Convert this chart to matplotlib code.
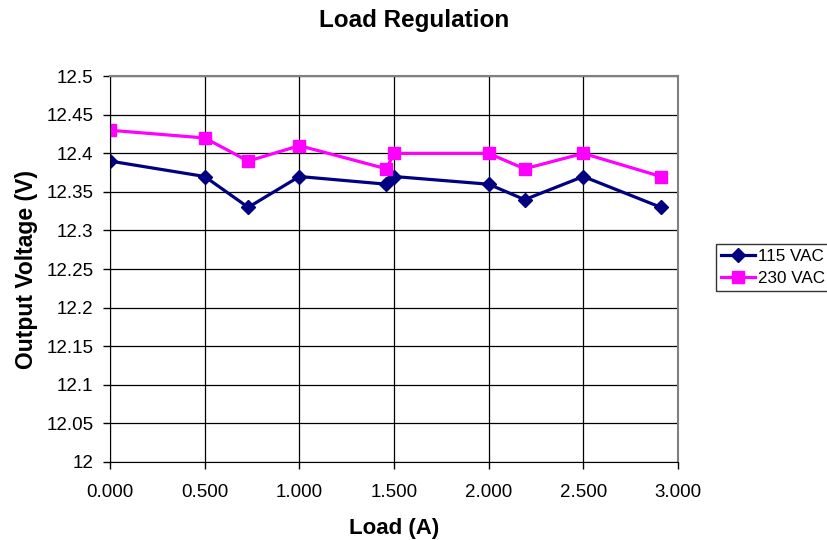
import matplotlib
matplotlib.use("Agg")
import matplotlib.pyplot as plt
from matplotlib.ticker import MultipleLocator, FormatStrFormatter, FuncFormatter

plt.rcParams['font.family'] = ['Liberation Sans', 'DejaVu Sans']

load = [0.0, 0.5, 0.73, 1.0, 1.46, 1.5, 2.0, 2.19, 2.5, 2.91]
v115 = [12.39, 12.37, 12.33, 12.37, 12.36, 12.37, 12.36, 12.34, 12.37, 12.33]
v230 = [12.43, 12.42, 12.39, 12.41, 12.38, 12.40, 12.40, 12.38, 12.40, 12.37]

fig = plt.figure(figsize=(8.28, 5.4), dpi=100)
ax = fig.add_axes([0.1329, 0.145, 0.8188 - 0.1329, 0.8587 - 0.145])

ax.plot(load, v115, color="#000080", marker="D", markersize=7.5, lw=2.3, label="115 VAC")
ax.plot(load, v230, color="#FF00FF", marker="s", markersize=8.5, lw=2.3, label="230 VAC")

ax.set_xlim(0, 3.0)
ax.set_ylim(12, 12.5)
ax.xaxis.set_major_locator(MultipleLocator(0.5))
ax.yaxis.set_major_locator(MultipleLocator(0.05))
ax.xaxis.set_major_formatter(FormatStrFormatter("%.3f"))
ax.yaxis.set_major_formatter(FuncFormatter(lambda v, p: ("%.2f" % v).rstrip("0").rstrip(".")))
ax.grid(True, color="black", lw=0.9)
ax.set_axisbelow(True)
ax.tick_params(direction="out", length=5, width=1, labelsize=13.5)
ax.tick_params(axis="y", pad=7)
ax.tick_params(axis="x", pad=11)
for s in ["top", "right"]:
    ax.spines[s].set_color("#808080")
    ax.spines[s].set_linewidth(1.5)
for s in ["left", "bottom"]:
    ax.spines[s].set_color("black")

ax.set_xlabel("Load (A)", fontsize=16, fontweight="bold", labelpad=12)
ax.set_ylabel("Output Voltage (V)", fontsize=16.5, fontweight="bold", labelpad=6)
fig.text(0.5, 0.962, "Load Regulation", ha="center", va="center", fontsize=17.5, fontweight="bold")

leg = fig.legend(loc="upper left", bbox_to_anchor=(0.8647, 0.548), fontsize=12.3,
                 frameon=True, fancybox=False, borderpad=0.3, handlelength=2.0,
                 handletextpad=0.15, labelspacing=0.4, borderaxespad=0)
leg.get_frame().set_edgecolor("black")
leg.get_frame().set_linewidth(1)

fig.savefig("out.png", dpi=100)
